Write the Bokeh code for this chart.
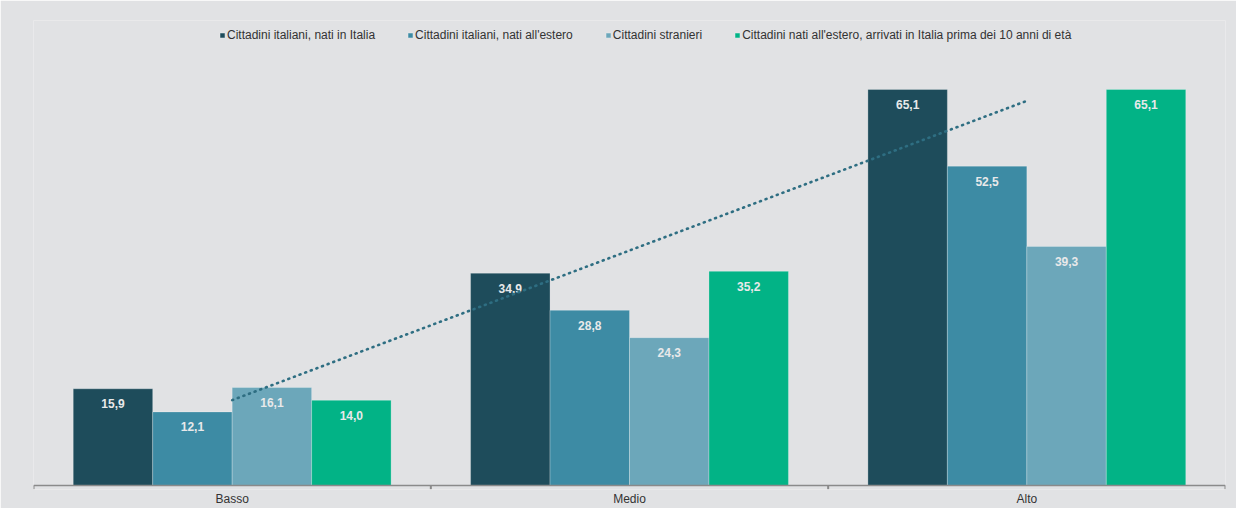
import numpy as np
from bokeh.plotting import figure
from bokeh.models import ColumnDataSource, FactorRange, Range1d, Legend, LegendItem, Span
from bokeh.transform import dodge
from bokeh.core.properties import value
from bokeh.embed import file_html
from bokeh.resources import INLINE

# ---- data ----
categories = ["Basso", "Medio", "Alto"]
series_names = [
    "Cittadini italiani, nati in Italia",
    "Cittadini italiani, nati all'estero",
    "Cittadini stranieri",
    "Cittadini nati all'estero, arrivati in Italia prima dei 10 anni di età",
]
italiani_italia = [15.9, 34.9, 65.1]
italiani_estero = [12.1, 28.8, 52.5]
stranieri = [16.1, 24.3, 39.3]
arrivati_prima_10 = [14.0, 35.2, 65.1]

colors = ["#1e4c5b", "#3d8ba4", "#6ca7ba", "#02b386"]
FONT = "Liberation Sans"

series = [italiani_italia, italiani_estero, stranieri, arrivati_prima_10]
keys = ["s1", "s2", "s3", "s4"]
data = {"cat": categories}
for k, s in zip(keys, series):
    data[k] = s
    data[k + "_lbl"] = [f"{v:.1f}".replace(".", ",") for v in s]
src = ColumnDataSource(data)

x_range = FactorRange(factors=categories, range_padding=0)
y_range = Range1d(-0.658, 76.44)

p = figure(
    width=1236, height=508, x_range=x_range, y_range=y_range,
    output_backend="svg", toolbar_location=None,
    min_border_left=33, min_border_right=11, min_border_top=20, min_border_bottom=19,
)
p.background_fill_color = "#e1e2e4"
p.border_fill_color = "#e1e2e4"
p.outline_line_color = None
p.xgrid.visible = False
p.ygrid.visible = False
p.yaxis.visible = False

xa = p.xaxis[0]
xa.axis_line_color = None
xa.major_tick_line_color = None
xa.minor_tick_line_color = None
xa.major_tick_out = 0
xa.major_tick_in = 0
xa.major_label_standoff = 2
xa.major_label_text_font = FONT
xa.major_label_text_font_size = "12px"
xa.major_label_text_color = "#333333"

offsets = [-0.3, -0.1, 0.1, 0.3]
renderers = []
for k, off, c in zip(keys, offsets, colors):
    r = p.vbar(x=dodge("cat", off, range=p.x_range), top=k, width=0.2, source=src,
               fill_color=c, line_color="#ffffff", line_alpha=0.25, line_width=1)
    renderers.append(r)
    p.text(x=dodge("cat", off, range=p.x_range), y=k, text=k + "_lbl", source=src,
           text_align="center", text_baseline="middle", y_offset=15,
           text_font=value(FONT), text_font_style="bold", text_font_size="12px",
           text_color="#e8e9ea")

# baseline axis line and category boundary ticks
p.add_layout(Span(location=0, dimension="width", line_color="#8a8a8a", line_width=1.6))
bounds = list(range(len(categories) + 1))
p.segment(x0=bounds, y0=[0] * len(bounds), x1=bounds, y1=[-0.62] * len(bounds),
          line_color="#8a8a8a", line_width=2)

# linear trendline of first series
xi = np.arange(1, len(categories) + 1)
slope, icpt = np.polyfit(xi, italiani_italia, 1)
trend = list(slope * xi + icpt)
p.line(x=categories, y=trend, line_color="#2e6e82", line_width=2.6,
       line_dash="1 5", line_cap="round")

legend = Legend(
    items=[LegendItem(label=n, renderers=[r]) for n, r in zip(series_names, renderers)],
    orientation="horizontal", location=(186, 447),
    glyph_width=6, glyph_height=6, label_standoff=2, spacing=32,
    padding=0, margin=0, border_line_color=None, background_fill_alpha=0,
    label_text_font=FONT, label_text_font_size="12px", label_text_color="#333333",
    label_height=14,
)
p.add_layout(legend)

open("out.html", "w").write(file_html(p, INLINE))
